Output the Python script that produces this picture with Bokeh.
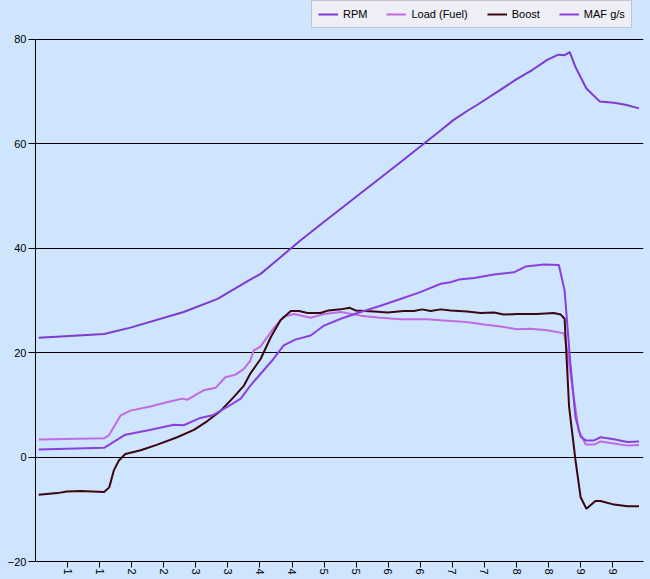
import math
from bokeh.plotting import figure
from bokeh.models import FixedTicker, Legend, LegendItem, Range1d
from bokeh.embed import file_html
from bokeh.resources import INLINE

# ---- data (time in s, values) ----
rpm_t = [0.55, 1.57, 1.98, 2.81, 3.34, 3.82, 4.01, 4.32, 4.63, 5.00, 5.41, 5.88, 6.19, 6.50,
         6.82, 7.02, 7.23, 7.39, 7.73, 7.99, 8.25, 8.48, 8.65, 8.75, 8.83, 8.92, 9.09, 9.30,
         9.52, 9.70, 9.91]
rpm_v = [22.85, 23.6, 24.8, 27.8, 30.3, 33.8, 35.1, 38.3, 41.5, 45.1, 49.0, 53.5, 56.5, 59.5,
         62.6, 64.6, 66.3, 67.5, 70.2, 72.3, 74.2, 76.1, 77.1, 77.0, 77.6, 74.7, 70.6, 68.1,
         67.9, 67.5, 66.8]

load_t = [0.55, 1.57, 1.64, 1.83, 1.98, 2.29, 2.61, 2.79, 2.87, 3.12, 3.31, 3.46, 3.62, 3.75,
          3.85, 3.90, 4.01, 4.22, 4.37, 4.53, 4.79, 5.00, 5.26, 5.57, 5.88, 6.19, 6.61, 6.82,
          7.10, 7.28, 7.49, 7.75, 8.01, 8.22, 8.48, 8.74, 8.79, 8.87, 8.97, 9.08, 9.21, 9.31,
          9.52, 9.73, 9.91]
load_v = [3.37, 3.6, 4.1, 8.0, 8.9, 9.7, 10.7, 11.2, 11.0, 12.8, 13.3, 15.3, 15.8, 16.9,
          18.5, 20.4, 21.2, 24.8, 26.9, 27.4, 26.7, 27.4, 27.8, 27.1, 26.7, 26.4, 26.4, 26.2,
          26.0, 25.8, 25.4, 25.0, 24.5, 24.6, 24.3, 23.7, 20.4, 13.4, 5.1, 2.4, 2.4, 3.0,
          2.6, 2.2, 2.3]

boost_t = [0.55, 0.84, 0.99, 1.20, 1.57, 1.65, 1.72, 1.80, 1.90, 2.14, 2.40, 2.71, 2.97, 3.18,
           3.39, 3.59, 3.75, 3.85, 4.01, 4.17, 4.32, 4.48, 4.61, 4.74, 4.94, 5.07, 5.26, 5.40,
           5.49, 5.78, 5.99, 6.24, 6.40, 6.53, 6.66, 6.82, 6.97, 7.23, 7.44, 7.65, 7.80, 8.01,
           8.32, 8.58, 8.69, 8.75, 8.82, 8.92, 9.00, 9.09, 9.23, 9.31, 9.52, 9.73, 9.91]
boost_v = [-7.2, -6.9, -6.6, -6.5, -6.7, -5.8, -2.6, -0.65, 0.6, 1.3, 2.4, 3.8, 5.2, 6.9,
           8.9, 11.5, 13.7, 16.0, 18.8, 23.0, 26.2, 28.0, 28.0, 27.6, 27.6, 28.1, 28.3, 28.6,
           28.1, 27.9, 27.7, 28.0, 28.0, 28.3, 28.0, 28.3, 28.1, 27.9, 27.6, 27.7, 27.3, 27.4,
           27.4, 27.6, 27.3, 26.5, 9.6, -0.65, -7.7, -9.9, -8.4, -8.4, -9.1, -9.4, -9.4]

maf_t = [0.55, 1.57, 1.90, 2.24, 2.66, 2.81, 3.07, 3.26, 3.49, 3.70, 3.85, 4.19, 4.37, 4.55,
         4.79, 5.00, 5.26, 5.57, 5.88, 6.19, 6.50, 6.82, 6.97, 7.10, 7.34, 7.65, 7.96, 8.14,
         8.43, 8.66, 8.75, 8.84, 8.92, 9.00, 9.08, 9.21, 9.31, 9.52, 9.73, 9.91]
maf_v = [1.46, 1.78, 4.3, 5.1, 6.2, 6.1, 7.5, 8.0, 9.6, 11.2, 13.7, 18.5, 21.4, 22.5,
         23.3, 25.2, 26.5, 27.8, 29.0, 30.3, 31.6, 33.2, 33.5, 34.0, 34.3, 35.0, 35.4, 36.5,
         36.9, 36.8, 31.9, 17.9, 7.6, 3.9, 3.2, 3.2, 3.8, 3.4, 2.9, 3.0]

series_names = ["RPM", "Load (Fuel)", "Boost", "MAF g/s"]
series_colors = ["#7a3bd1", "#c06be0", "#3a0612", "#8a40e0"]

x_ticks = [1.0, 1.5, 2.0, 2.5, 3.0, 3.5, 4.0, 4.5, 5.0, 5.5, 6.0, 6.5, 7.0, 7.5, 8.0, 8.5, 9.0, 9.5]
x_tick_labels = ["1", "1", "2", "2", "3", "3", "4", "4", "5", "5", "6", "6", "7", "7", "8", "8", "9", "9"]
y_ticks = [-20, 0, 20, 40, 60, 80]
y_min, y_max = -20, 80
y_view_top = 87.47   # extra headroom above 80 for the legend strip

BG = "#cfe4fd"
FONT = "Liberation Sans"

p = figure(width=650, height=579, output_backend="svg", toolbar_location=None,
           x_range=Range1d(0.5, 9.98), y_range=Range1d(y_min, y_view_top),
           min_border_left=35, min_border_right=7, min_border_top=0, min_border_bottom=18)
p.background_fill_color = BG
p.border_fill_color = BG
p.outline_line_color = None

p.xgrid.visible = False
p.ygrid.ticker = FixedTicker(ticks=y_ticks)
p.ygrid.grid_line_color = "black"
p.ygrid.grid_line_width = 1

p.xaxis.ticker = FixedTicker(ticks=x_ticks)
p.xaxis.major_label_overrides = {t: l for t, l in zip(x_ticks, x_tick_labels)}
p.xaxis.major_label_orientation = -math.pi / 2
p.yaxis.ticker = FixedTicker(ticks=y_ticks)
p.yaxis.bounds = (y_min, y_max)
for ax in (p.xaxis, p.yaxis):
    ax.axis_line_color = "black"
    ax.major_tick_line_color = "black"
    ax.minor_tick_line_color = None
    ax.major_tick_in = 0
    ax.major_tick_out = 6
    ax.major_label_standoff = 1
    ax.major_label_text_font = FONT
    ax.major_label_text_font_size = "11px"
    ax.major_label_text_color = "black"
p.yaxis.major_tick_out = 7
p.yaxis.major_label_standoff = 2

renderers = []
for (tt, vv), name, col in zip([(rpm_t, rpm_v), (load_t, load_v), (boost_t, boost_v), (maf_t, maf_v)],
                               series_names, series_colors):
    r = p.line(tt, vv, line_color=col, line_width=2)
    renderers.append(r)

legend = Legend(items=[LegendItem(label=n, renderers=[r]) for n, r in zip(series_names, renderers)],
                orientation="horizontal", location=(276, 533),
                background_fill_color="#eeeef6", background_fill_alpha=1.0,
                border_line_color="#9a9aa6", border_line_width=1,
                glyph_width=20, glyph_height=14, label_height=14, label_standoff=5,
                spacing=19, padding=6, margin=0,
                label_text_font=FONT, label_text_font_size="11px", label_text_color="black")
p.add_layout(legend, "center")

html = file_html(p, INLINE)
html = html.replace("<head>", "<head><style>body{background:%s;}</style>" % BG, 1)
open("out.html", "w").write(html)
